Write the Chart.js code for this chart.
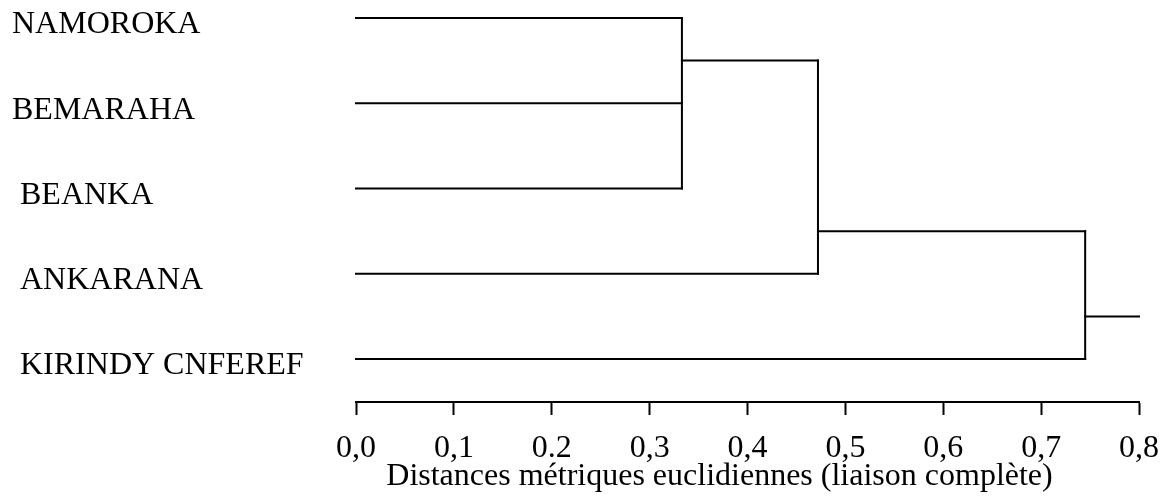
<!DOCTYPE html>
<html lang="fr">
  <head>
    <meta charset="UTF-8" />
    <title>Dendrogramme</title>
    <script src="https://cdn.jsdelivr.net/npm/chart.js@4.4.1/dist/chart.umd.min.js"></script>
    <style>
      body {
        margin: 0;
        background: #fff;
      }
      .wrap {
        width: 1160px;
        height: 497px;
      }
    </style>
  </head>
  <body>
    <div class="wrap"><canvas id="dendro"></canvas></div>
    <script>
      // Leaves, top to bottom
      const leaves = ["NAMOROKA", "BEMARAHA", " BEANKA", " ANKARANA", " KIRINDY CNFEREF"];
      // distance at which each leaf joins a cluster
      const leafJoin = [0.333, 0.333, 0.333, 0.472, 0.745];
      // merges (complete linkage)
      const mergeHeight = [0.333, 0.472, 0.745];
      const mergeFrom = [0, 0.5, 2.5]; // row where the link starts
      const mergeTo = [2, 3, 4]; // row where the link ends
      const mergeStem = [0.5, 2.5, 3.5]; // row of the branch going to the parent
      const rootEnd = 0.8;
      // x axis
      const tickValues = [0, 0.1, 0.2, 0.3, 0.4, 0.5, 0.6, 0.7, 0.8];
      const tickLabels = ["0,0", "0,1", "0.2", "0,3", "0,4", "0,5", "0,6", "0,7", "0,8"];
      const axisTitle = "Distances métriques euclidiennes (liaison complète)";

      const serif = "'Liberation Serif', 'Times New Roman', serif";

      // Build the segments of the tree
      const segments = [];
      leaves.forEach((name, i) => {
        segments.push([{ x: 0, y: i }, { x: leafJoin[i], y: i }]);
      });
      mergeHeight.forEach((h, i) => {
        segments.push([{ x: h, y: mergeFrom[i] }, { x: h, y: mergeTo[i] }]);
        const next = i + 1 < mergeHeight.length ? mergeHeight[i + 1] : rootEnd;
        segments.push([{ x: h, y: mergeStem[i] }, { x: next, y: mergeStem[i] }]);
      });

      const datasets = segments.map((seg) => ({
        data: seg,
        showLine: true,
        borderColor: "#000",
        borderWidth: 2,
        borderCapStyle: "square",
        pointRadius: 0,
        clip: false,
      }));

      new Chart(document.getElementById("dendro"), {
        type: "scatter",
        data: { datasets: datasets },
        options: {
          responsive: true,
          maintainAspectRatio: false,
          animation: false,
          layout: { padding: { left: 12, right: 21, top: 0, bottom: 0 } },
          plugins: {
            legend: { display: false },
            tooltip: { enabled: false },
          },
          scales: {
            x: {
              type: "linear",
              min: 0,
              max: 0.8,
              afterBuildTicks: (scale) => {
                scale.ticks = tickValues.map((v) => ({ value: v }));
              },
              afterFit: (scale) => {
                scale.height = 95;
                scale.paddingLeft = 0;
                scale.paddingRight = 0;
              },
              grid: {
                drawOnChartArea: false,
                drawTicks: true,
                tickLength: 13,
                tickWidth: 2,
                tickColor: "#000",
              },
              border: { display: true, color: "#000", width: 2 },
              ticks: {
                color: "#000",
                padding: 14,
                maxRotation: 0,
                font: { family: serif, size: 32 },
                callback: (value, index) => tickLabels[index],
              },
              title: {
                display: true,
                text: axisTitle + "       ",
                color: "#000",
                font: { family: serif, size: 32 },
                padding: { top: 0, bottom: 1 },
              },
            },
            y: {
              type: "linear",
              reverse: true,
              min: -0.211,
              max: 4.504,
              afterBuildTicks: (scale) => {
                scale.ticks = leaves.map((n, i) => ({ value: i }));
              },
              afterFit: (scale) => {
                scale.width = 344;
                scale.paddingTop = 0;
                scale.paddingBottom = 0;
              },
              grid: { display: false },
              border: { display: false },
              ticks: {
                color: "#000",
                crossAlign: "far",
                labelOffset: 7,
                font: { family: serif, size: 32 },
                callback: (value, index) => leaves[index],
              },
            },
          },
        },
      });
    </script>
  </body>
</html>
